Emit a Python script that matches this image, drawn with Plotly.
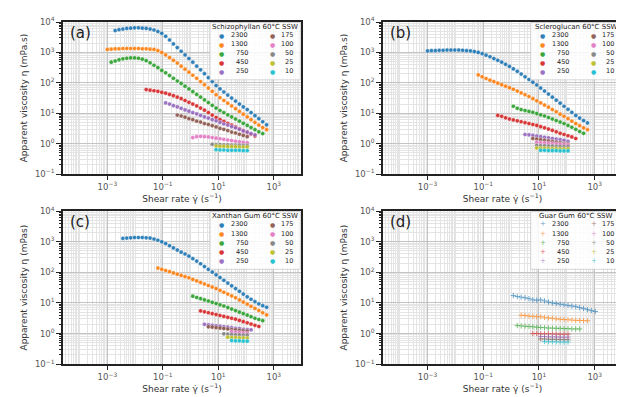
import plotly.graph_objects as go

# ---------------- data ----------------
SHEAR_RATE = [0.001, 0.00138, 0.00191, 0.00263, 0.00363, 0.00501, 0.00692, 0.00955,
              0.0132, 0.0182, 0.0251, 0.0347, 0.0479, 0.0661, 0.0912, 0.126, 0.174,
              0.240, 0.331, 0.457, 0.631, 0.871, 1.20, 1.66, 2.29, 3.16, 4.37, 6.03,
              8.32, 11.5, 15.8, 21.9, 30.2, 41.7, 57.5, 79.4, 110, 151, 209, 288, 398,
              550, 759, 1047]

CONCENTRATIONS = ["2300", "1300", "750", "450", "250", "175", "100", "50", "25", "10"]
COLORS = ["#1f77b4", "#ff7f0e", "#2ca02c", "#d62728", "#9467bd",
          "#8c564b", "#e377c2", "#7f7f7f", "#bcbd22", "#17becf"]

POLYMERS = ["Schizophyllan 60°C SSW", "Scleroglucan 60°C SSW",
            "Xanthan Gum 60°C SSW", "Guar Gum 60°C SSW"]
PANEL_LABELS = ["(a)", "(b)", "(c)", "(d)"]
Y_TITLES = ["Apparent viscosity η (mPa.s)", "Apparent viscosity η (mPa.s)",
            "Apparent viscosity η (mPas)", "Apparent viscosity η (mPas)"]
X_TITLE = "Shear rate γ\u0307 (s<sup>−1</sup>)"

X_TICKS = [1e-3, 1e-1, 1e1, 1e3]
X_TICKTEXT = ["10<sup>−3</sup>", "10<sup>−1</sup>", "10<sup>1</sup>", "10<sup>3</sup>"]
Y_TICKS = [1e-1, 1e0, 1e1, 1e2, 1e3, 1e4]
Y_TICKTEXT = ["10<sup>−1</sup>", "10<sup>0</sup>", "10<sup>1</sup>",
              "10<sup>2</sup>", "10<sup>3</sup>", "10<sup>4</sup>"]

# index of first shear rate for each concentration, and viscosities (mPa.s)
SCHIZO_START = [2, 0, 1, 10, 15, 18, 22, 27, 28, 28]
SCHIZO_ETA = [
    [5248, 5623, 5888, 6166, 6310, 6457, 6457, 6310, 6166, 5888, 5495, 4898, 4266, 3388,
     2570, 1905, 1445, 1096, 832, 631, 479, 355, 269, 200, 148, 110, 81.3, 63.1, 50.1,
     39.8, 31.6, 25.1, 20.0, 16.2, 13.2, 10.5, 8.32, 6.61, 5.25, 4.17],
    [1259, 1288, 1318, 1318, 1349, 1349, 1349, 1349, 1349, 1318, 1318, 1288, 1259, 1148,
     1000, 832, 676, 550, 447, 355, 282, 224, 178, 141, 110, 87.1, 67.6, 52.5, 40.7, 32.4,
     26.3, 21.4, 17.4, 14.1, 11.5, 9.33, 7.59, 6.17, 5.01, 4.07, 3.39, 2.88],
    [479, 525, 575, 617, 646, 661, 661, 646, 603, 537, 457, 380, 316, 257, 214, 174, 141,
     115, 95.5, 77.6, 63.1, 51.3, 41.7, 33.9, 27.5, 22.4, 18.2, 14.8, 12.3, 10.5, 8.91,
     7.59, 6.46, 5.50, 4.68, 3.98, 3.39, 2.88, 2.45, 2.14],
    [60.3, 57.5, 55.0, 52.5, 49.0, 45.7, 41.7, 38.0, 33.9, 30.2, 26.3, 22.9, 20.0, 17.4,
     14.8, 12.6, 10.5, 8.71, 7.24, 6.17, 5.37, 4.68, 4.07, 3.55, 3.09, 2.69, 2.34, 2.04, 1.78],
    [21.9, 20.0, 17.8, 16.2, 14.5, 12.9, 11.7, 10.5, 9.55, 8.51, 7.59, 6.92, 6.17, 5.62,
     5.01, 4.47, 4.07, 3.63, 3.31, 2.95, 2.63, 2.40, 2.14, 1.95],
    [8.71, 8.13, 7.41, 6.61, 6.17, 5.50, 5.13, 4.57, 4.27, 3.89, 3.55, 3.16, 2.95, 2.69,
     2.40, 2.24, 2.04, 1.86, 1.70],
    [1.58, 1.70, 1.74, 1.70, 1.66, 1.58, 1.51, 1.45, 1.38, 1.32, 1.26, 1.20, 1.15, 1.10, 1.07],
    [0.955, 0.933, 0.933, 0.912, 0.912, 0.891, 0.891, 0.891, 0.871, 0.871],
    [0.832, 0.813, 0.813, 0.794, 0.794, 0.794, 0.776, 0.776, 0.776],
    [0.631, 0.617, 0.617, 0.603, 0.603, 0.603, 0.603, 0.589, 0.589],
]

SCLERO_START = [0, 13, 22, 18, 25, 27, 28, 28, 28, 29]
SCLERO_ETA = [
    [1122, 1148, 1148, 1175, 1175, 1202, 1202, 1202, 1202, 1175, 1148, 1122, 1072, 1000,
     912, 813, 724, 631, 550, 479, 407, 347, 288, 240, 195, 158, 129, 105, 85.1, 67.6,
     53.7, 42.7, 33.9, 26.9, 21.4, 17.0, 13.5, 10.7, 8.51, 6.92, 5.75, 4.79],
    [182, 158, 138, 123, 110, 97.7, 87.1, 77.6, 69.2, 61.7, 53.7, 46.8, 40.7, 35.5, 30.2,
     25.7, 21.9, 18.6, 15.8, 13.2, 11.2, 9.33, 7.94, 6.61, 5.50, 4.57, 3.89, 3.31, 2.88],
    [17.0, 14.5, 13.2, 12.3, 11.5, 10.7, 9.77, 8.91, 8.13, 7.24, 6.46, 5.75, 5.13, 4.57,
     3.98, 3.47, 2.95, 2.51, 2.19],
    [8.51, 7.94, 7.08, 6.46, 6.03, 5.62, 5.25, 4.90, 4.57, 4.27, 3.98, 3.63, 3.31, 3.02,
     2.75, 2.45, 2.19, 2.00, 1.82, 1.66, 1.48],
    [2.00, 1.95, 1.86, 1.78, 1.70, 1.62, 1.55, 1.48, 1.41, 1.35, 1.29, 1.20],
    [1.48, 1.41, 1.35, 1.29, 1.23, 1.17, 1.12, 1.07, 1.02, 0.977],
    [1.10, 1.07, 1.05, 1.02, 1.00, 0.977, 0.955, 0.933, 0.912],
    [0.871, 0.851, 0.851, 0.832, 0.832, 0.813, 0.813, 0.794, 0.794],
    [0.724, 0.708, 0.708, 0.692, 0.692, 0.692, 0.676, 0.676, 0.676],
    [0.603, 0.603, 0.589, 0.589, 0.589, 0.575, 0.575, 0.575],
]

XANTHAN_START = [4, 13, 22, 24, 25, 26, 32, 30, 31, 32]
XANTHAN_ETA = [
    [1288, 1318, 1349, 1380, 1380, 1380, 1349, 1318, 1230, 1122, 1000, 871, 741, 631, 537,
     457, 398, 339, 282, 234, 191, 155, 126, 102, 83.2, 67.6, 55.0, 44.7, 36.3, 29.5,
     24.0, 19.5, 15.8, 13.2, 11.0, 9.33, 8.13, 7.24],
    [138, 126, 115, 105, 95.5, 87.1, 79.4, 72.4, 66.1, 58.9, 52.5, 46.8, 41.7, 37.2, 33.1,
     29.5, 25.7, 22.4, 19.5, 17.0, 14.8, 12.6, 10.7, 9.12, 7.76, 6.61, 5.62, 4.79, 4.07],
    [16.6, 15.1, 13.8, 12.6, 11.5, 10.5, 9.55, 8.71, 7.94, 7.08, 6.31, 5.62, 5.01, 4.47,
     3.98, 3.55, 3.16, 2.88, 2.63],
    [5.50, 5.13, 4.79, 4.47, 4.17, 3.89, 3.63, 3.39, 3.16, 2.95, 2.69, 2.45, 2.24, 2.04,
     1.86, 1.70],
    [2.00, 1.91, 1.86, 1.78, 1.74, 1.66, 1.62, 1.55, 1.48, 1.45, 1.38, 1.35, 1.32],
    [1.66, 1.62, 1.55, 1.51, 1.45, 1.41, 1.35, 1.32, 1.26, 1.23, 1.20],
    [1.15, 1.10, 1.07, 1.05, 1.02],
    [0.977, 0.955, 0.933, 0.912, 0.912, 0.891, 0.891],
    [0.759, 0.741, 0.741, 0.724, 0.724, 0.708],
    [0.589, 0.575, 0.575, 0.562, 0.562],
]

GUAR_START = [22, 24, 23, 27, 29, 29, None, None, None, 30]
GUAR_ETA = [
    [17.4, 16.2, 15.5, 14.8, 13.8, 12.6, 12.3, 12.6, 11.7, 10.7, 10.0, 9.55, 9.12, 8.71,
     8.32, 7.94, 7.59, 7.08, 6.61, 6.03, 5.62, 5.25],
    [3.98, 3.89, 3.72, 3.63, 3.55, 3.55, 3.39, 3.24, 3.16, 3.02, 2.95, 2.88, 2.82, 2.75,
     2.69, 2.69, 2.63, 2.63],
    [1.82, 1.78, 1.74, 1.70, 1.66, 1.62, 1.58, 1.55, 1.51, 1.51, 1.48, 1.48, 1.45, 1.45,
     1.41, 1.41, 1.41],
    [1.00, 1.00, 0.977, 0.977, 0.977, 0.977, 0.955, 0.955, 0.955, 0.955],
    [0.794, 0.794, 0.776, 0.776, 0.776, 0.759, 0.759, 0.759],
    [0.661, 0.661, 0.646, 0.646, 0.646, 0.631, 0.631, 0.631],
    None, None, None,
    [0.550, 0.537, 0.537, 0.537, 0.525, 0.525, 0.525],
]

PANELS = [
    (SCHIZO_START, SCHIZO_ETA, "circle"),
    (SCLERO_START, SCLERO_ETA, "circle"),
    (XANTHAN_START, XANTHAN_ETA, "circle"),
    (GUAR_START, GUAR_ETA, "cross-thin"),
]

# ---------------- layout geometry ----------------
W, H = 624, 397
X_DOMAINS = [[55 / W, 293 / W], [375 / W, 614 / W], [55 / W, 293 / W], [375 / W, 614 / W]]
Y_DOMAINS = [[1 - 164 / H, 1 - 7.3 / H], [1 - 164 / H, 1 - 7.3 / H],
             [1 - 360 / H, 1 - 202.3 / H], [1 - 360 / H, 1 - 202.3 / H]]

FONT = "DejaVu Sans"
AXIS_COLOR = "#222222"
MAJOR_GRID = "#c4c4c4"
MINOR_GRID = "#e4e4e4"

fig = go.Figure()
layout = dict(
    width=W, height=H, margin=dict(l=0, r=0, t=0, b=0),
    paper_bgcolor="white", plot_bgcolor="white",
    font=dict(family=FONT, color="#333333"),
    showlegend=False, annotations=[], shapes=[],
)


def to_paper(domain, frac):
    return domain[0] + frac * (domain[1] - domain[0])


for p, (starts, etas, symbol) in enumerate(PANELS):
    s = "" if p == 0 else str(p + 1)
    xa, ya = "x" + s, "y" + s
    for c, conc in enumerate(CONCENTRATIONS):
        if etas[c] is None:
            continue
        y = etas[c]
        x = SHEAR_RATE[starts[c]:starts[c] + len(y)]
        if symbol == "circle":
            marker = dict(symbol="circle", size=4.2, color=COLORS[c], opacity=0.92,
                          line=dict(color="white", width=0.4))
        else:
            marker = dict(symbol="cross-thin", size=3.8, color=COLORS[c],
                          line=dict(color=COLORS[c], width=0.9), opacity=0.7)
        fig.add_trace(go.Scatter(x=x, y=y, mode="markers", name=conc, marker=marker,
                                 xaxis=xa, yaxis=ya, showlegend=False))

    layout["xaxis" + s] = dict(
        type="log", range=[-4.6, 3.98], domain=X_DOMAINS[p], anchor=ya,
        tickmode="array", tickvals=X_TICKS, ticktext=X_TICKTEXT,
        ticks="outside", ticklen=4, tickwidth=1, tickcolor=AXIS_COLOR,
        showline=True, linecolor=AXIS_COLOR, linewidth=1.6, mirror=True,
        showgrid=True, gridcolor=MAJOR_GRID, gridwidth=1.3, zeroline=False,
        minor=dict(dtick="D1", showgrid=True, gridcolor=MINOR_GRID, gridwidth=0.6, ticks=""),
        tickfont=dict(family=FONT, size=8.5, color="#555555"),
        title=dict(text=X_TITLE, font=dict(family=FONT, size=9, color="#333333"), standoff=3),
    )
    layout["yaxis" + s] = dict(
        type="log", range=[-1, 4], domain=Y_DOMAINS[p], anchor=xa,
        tickmode="array", tickvals=Y_TICKS, ticktext=Y_TICKTEXT,
        ticks="outside", ticklen=5, tickwidth=1, tickcolor=AXIS_COLOR,
        showline=True, linecolor=AXIS_COLOR, linewidth=1.6, mirror=True,
        showgrid=True, gridcolor=MAJOR_GRID, gridwidth=1.3, zeroline=False,
        minor=dict(dtick="D1", showgrid=True, gridcolor=MINOR_GRID, gridwidth=0.6,
                   ticks="outside", ticklen=2.5, tickcolor=AXIS_COLOR, tickwidth=0.8),
        tickfont=dict(family=FONT, size=8.5, color="#555555"),
        title=dict(text=Y_TITLES[p], font=dict(family=FONT, size=9, color="#333333"), standoff=6),
    )

    xd, yd = X_DOMAINS[p], Y_DOMAINS[p]
    # panel label
    layout["annotations"].append(dict(
        text=PANEL_LABELS[p], xref="paper", yref="paper", x=to_paper(xd, 0.02),
        y=to_paper(yd, 1.0), xanchor="left", yanchor="top",
        showarrow=False, font=dict(family=FONT, size=15, color="#222222")))
    # legend box (compact two-column matplotlib-style legend)
    layout["shapes"].append(dict(
        type="rect", xref="paper", yref="paper",
        x0=to_paper(xd, 0.618), x1=to_paper(xd, 0.997),
        y0=to_paper(yd, 0.62), y1=to_paper(yd, 0.997),
        fillcolor="rgba(255,255,255,0.85)", line=dict(color="#cccccc", width=0.8), layer="above"))
    layout["annotations"].append(dict(
        text=POLYMERS[p], xref="paper", yref="paper", x=to_paper(xd, 0.808),
        y=to_paper(yd, 0.966), xanchor="center", yanchor="middle",
        showarrow=False, font=dict(family=FONT, size=7, color="#222222")))
    glyph = "●" if symbol == "circle" else "+"
    for c, conc in enumerate(CONCENTRATIONS):
        col, row = divmod(c, 5)
        yy = to_paper(yd, 0.913 - row * 0.059)
        xm = to_paper(xd, 0.668 if col == 0 else 0.882)
        xl = to_paper(xd, 0.785 if col == 0 else 0.975)
        layout["annotations"].append(dict(
            text=glyph, xref="paper", yref="paper", x=xm, y=yy, xanchor="center",
            yanchor="middle", showarrow=False,
            font=dict(family=FONT, size=6 if symbol == "circle" else 7, color=COLORS[c]),
            opacity=0.92 if symbol == "circle" else 0.7))
        layout["annotations"].append(dict(
            text=conc, xref="paper", yref="paper", x=xl, y=yy, xanchor="right",
            yanchor="middle", showarrow=False,
            font=dict(family=FONT, size=6.5, color="#222222")))

fig.update_layout(**layout)
fig.write_html("out.html")
